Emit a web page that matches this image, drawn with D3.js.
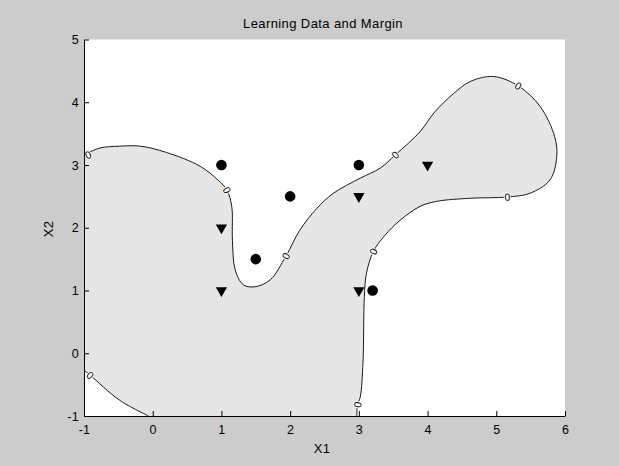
<!DOCTYPE html>
<html>
<head>
<meta charset="utf-8">
<script src="https://cdn.jsdelivr.net/npm/d3@7"></script>
<style>
  body { margin: 0; background: #cccccc; }
  svg { display: block; }
  text { font-family: "Liberation Sans", Arial, sans-serif; }
</style>
</head>
<body>
<svg id="fig" width="619" height="466"></svg>
<script>
// learning data
const circles = [[1, 3], [2, 2.5], [1.5, 1.5], [3, 3], [3.2, 1]];
const triangles = [[1, 2], [1, 1], [3, 2.5], [4, 3], [3, 1]];

// zero contour of the margin
const contourMain = [
  [-1, 3.16], [-0.77, 3.27], [-0.48, 3.3], [-0.18, 3.3], [0.2, 3.2], [0.69, 2.98],
  [0.95, 2.76], [1.08, 2.6], [1.15, 2.34], [1.16, 1.8], [1.2, 1.33], [1.32, 1.09],
  [1.49, 1.06], [1.71, 1.17], [1.94, 1.55], [2.14, 1.96], [2.39, 2.31], [2.63, 2.55],
  [3.02, 2.79], [3.31, 2.95], [3.53, 3.16], [3.89, 3.53], [4.1, 3.84], [4.38, 4.14],
  [4.62, 4.33], [4.96, 4.41], [5.32, 4.26], [5.64, 3.93], [5.85, 3.45], [5.88, 3.13],
  [5.78, 2.76], [5.49, 2.55], [5.16, 2.49], [4.62, 2.47], [4.13, 2.42], [3.89, 2.34],
  [3.6, 2.12], [3.38, 1.88], [3.21, 1.62], [3.11, 1.27], [3.08, 0.9], [3.06, -0.15],
  [3.02, -0.7], [2.98, -0.82], [2.97, -1]
];
const contourCorner = [[-1, -0.27], [-0.91, -0.35], [-0.48, -0.75], [-0.06, -1]];
const labelSpots = [
  [-0.94, 3.16], [1.08, 2.6], [1.94, 1.55], [3.53, 3.16], [5.32, 4.26],
  [5.16, 2.49], [3.21, 1.62], [2.98, -0.82], [-0.91, -0.35]
];

const xTicks = [-1, 0, 1, 2, 3, 4, 5, 6];
const yTicks = [-1, 0, 1, 2, 3, 4, 5];

const svg = d3.select("#fig");
const axLeft = 84, axRight = 565, axTop = 39.5, axBottom = 416;

let x = d3.scaleLinear().domain([-1, 6]).range([axLeft, axRight]);
let y = d3.scaleLinear().domain([-1, 5]).range([axBottom, axTop]);

svg.append("rect")
    .attr("x", axLeft).attr("y", axTop)
    .attr("width", axRight - axLeft).attr("height", axBottom - axTop)
    .attr("fill", "#ffffff");

let line = d3.line()
    .x(d => x(d[0]))
    .y(d => y(d[1]))
    .curve(d3.curveCatmullRom.alpha(0.5));

// shaded side of the margin
let fillPath = line(contourMain) + line(contourCorner.slice().reverse()).replace(/^M/, "L") + "Z";
svg.append("path")
    .attr("d", fillPath)
    .attr("fill", "#e6e6e6")
    .attr("stroke", "none");

svg.selectAll("path.contour")
    .data([contourMain, contourCorner])
    .join("path")
    .attr("class", "contour")
    .attr("d", line)
    .attr("fill", "none")
    .attr("stroke", "#1a1a1a")
    .attr("stroke-width", 1);

// contour labels
function labelAngle(p) {
    let best = null, bestD = Infinity;
    [contourMain, contourCorner].forEach(arr => {
        arr.forEach((q, i) => {
            let d = Math.hypot(x(q[0]) - x(p[0]), y(q[1]) - y(p[1]));
            if (d < bestD) { bestD = d; best = { arr: arr, i: i }; }
        });
    });
    let a = best.arr[Math.max(0, best.i - 1)];
    let b = best.arr[Math.min(best.arr.length - 1, best.i + 1)];
    let ang = Math.atan2(y(b[1]) - y(a[1]), x(b[0]) - x(a[0])) * 180 / Math.PI;
    if (ang > 90) ang -= 180;
    if (ang < -90) ang += 180;
    return ang;
}

let labels = svg.selectAll("g.clabel")
    .data(labelSpots)
    .join("g")
    .attr("class", "clabel")
    .attr("transform", d => `translate(${x(d[0])},${y(d[1])}) rotate(${labelAngle(d)})`);

labels.append("ellipse")
    .attr("rx", 3.5).attr("ry", 4.8)
    .attr("fill", "#ffffff");

labels.append("text")
    .attr("text-anchor", "middle")
    .attr("dy", "0.36em")
    .attr("font-size", 10.5)
    .attr("fill", "#000")
    .text("0");

// data points
svg.selectAll("circle.pos")
    .data(circles)
    .join("circle")
    .attr("class", "pos")
    .attr("cx", d => x(d[0]))
    .attr("cy", d => y(d[1]))
    .attr("r", 5.3)
    .attr("fill", "#000");

svg.selectAll("path.neg")
    .data(triangles)
    .join("path")
    .attr("class", "neg")
    .attr("d", d3.symbol(d3.symbolTriangle, 55))
    .attr("transform", d => `translate(${x(d[0])},${y(d[1])}) rotate(180)`)
    .attr("fill", "#000");

// axes
let xAxis = svg.append("g")
    .attr("transform", `translate(0,${axBottom})`)
    .call(d3.axisBottom(x).tickValues(xTicks).tickFormat(d => String(d))
        .tickSizeInner(-5).tickSizeOuter(0).tickPadding(9));

let yAxis = svg.append("g")
    .attr("transform", `translate(${axLeft},0)`)
    .call(d3.axisLeft(y).tickValues(yTicks).tickFormat(d => String(d))
        .tickSizeInner(-5).tickSizeOuter(0).tickPadding(5));

[xAxis, yAxis].forEach(g => {
    g.select(".domain").attr("stroke", "#000");
    g.selectAll(".tick line").attr("stroke", "#000");
    g.selectAll(".tick text")
        .attr("font-size", 12.5)
        .attr("letter-spacing", 0.3)
        .attr("font-family", "Liberation Sans, Arial, sans-serif")
        .attr("fill", "#000");
});

svg.append("text")
    .attr("x", 323).attr("y", 28)
    .attr("text-anchor", "middle")
    .attr("font-size", 13)
    .attr("letter-spacing", 0.4)
    .text("Learning Data and Margin");

svg.append("text")
    .attr("x", 322).attr("y", 453)
    .attr("text-anchor", "middle")
    .attr("font-size", 13)
    .attr("letter-spacing", 0.4)
    .text("X1");

svg.append("text")
    .attr("transform", "translate(53,229) rotate(-90)")
    .attr("text-anchor", "middle")
    .attr("font-size", 13)
    .attr("letter-spacing", 0.4)
    .text("X2");
</script>
</body>
</html>
